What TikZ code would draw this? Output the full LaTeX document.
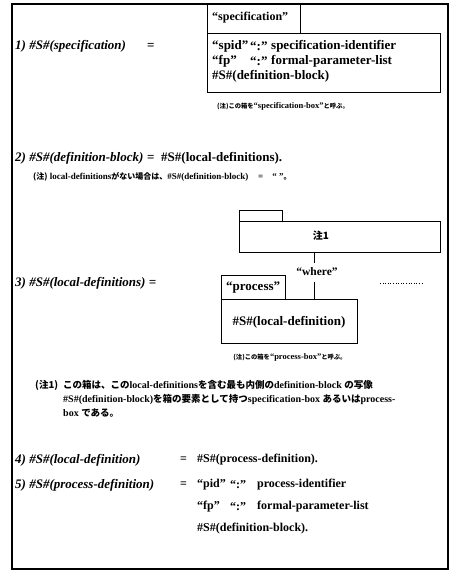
\documentclass[tikz,border=0pt]{standalone}
\usepackage{fontspec}
\setmainfont{Liberation Serif}
\newfontfamily\jp{Noto Sans CJK JP}
% Japanese sizes used inside the notes
\newcommand{\jpa}[1]{{\fontsize{6.3}{8}\selectfont\jp #1}}
\newcommand{\jpb}[1]{{\fontsize{8}{10}\selectfont\jp #1}}
\newcommand{\jpc}[1]{{\fontsize{9.5}{11}\selectfont\jp #1}}
\begin{document}
\begin{tikzpicture}[x=1pt,y=-1pt,
  frame/.style={line width=1.1pt},
  boxline/.style={line width=0.9pt},
  lbl/.style={anchor=west,inner sep=0pt,font=\fontsize{13}{15}\selectfont\bfseries\itshape},
  body/.style={anchor=west,inner sep=0pt,font=\fontsize{13}{15}\selectfont\bfseries},
  bodys/.style={anchor=west,inner sep=0pt,font=\fontsize{12}{14}\selectfont\bfseries},
  note/.style={inner sep=0pt,font=\fontsize{8.5}{9}\selectfont\bfseries},
  notel/.style={anchor=west,inner sep=0pt,font=\fontsize{9}{10}\selectfont\bfseries},
  para/.style={anchor=west,inner sep=0pt,font=\fontsize{10}{11}\selectfont\bfseries}]
\useasboundingbox (0,0) rectangle (452,574);

% outer frame
\draw[frame] (12,4) rectangle (448,569);

% 1) specification box
\draw[boxline] (207,4) rectangle (300,33);
\draw[boxline] (207,33) rectangle (440,92);
\node[bodys] (spechead) at (212,18) {“specification”};
\node[body] (spid) at (212,46) {“spid”};
\node[body] (spidc) at (250,46) {“:”};
\node[body] (spidid) at (271,46) {specification-identifier};
\node[body] (specfp) at (212,61) {“fp”};
\node[body] (specfpc) at (250,61) {“:”};
\node[body] (specfpl) at (271,61) {formal-parameter-list};
\node[body] (specdb) at (212,76) {\#S\#(definition-block)};
\node[note] (specnote) at (283,106) {\jpa{(注)この箱を}“specification-box”\jpa{と呼ぶ。}};
\node[lbl] (r1) at (15,46) {1) \#S\#(specification)};
\node[body] (r1eq) at (147,46) {=};

% 2) definition block
\node[lbl] (r2) at (15,158) {2) \#S\#(definition-block)};
\node[body] (r2eq) at (147,158) {=};
\node[body] (r2rhs) at (161,158) {\#S\#(local-definitions).};
\node[notel] (r2note) at (33,177)
  {\jpb{(注)} local-definitions\jpb{がない場合は、}\#S\#(definition-block)};
\node[notel] (r2noteq) at (258,177) {=\quad“~”\jpb{。}};

% 3) local definitions
\draw[boxline] (239,210) rectangle (282,221);
\draw[boxline] (239,221) rectangle (440,252);
\node[font=\fontsize{10}{11}\selectfont\jp\bfseries] (chu) at (321,236) {注1};
\coordinate (c1top) at (314,252);
\coordinate (c1bot) at (314,263);
\node[font=\fontsize{11.5}{13}\selectfont\bfseries,inner sep=0pt] (where) at (317,272) {“where”};
\coordinate (c2top) at (314,282);
\coordinate (c2bot) at (314,299);
\draw[boxline] (c1top) -- (c1bot);
\draw[boxline] (c2top) -- (c2bot);
\draw[boxline] (221,275) rectangle (285,299);
\node[body] (prochead) at (226,288) {“process”};
\draw[boxline] (221,299) rectangle (357,343);
\node[body,anchor=center] (localdef) at (289,322) {\#S\#(local-definition)};
\coordinate (dotsL) at (380,283);
\coordinate (dotsR) at (422,283);
\draw[line width=0.6pt,dotted] (dotsL) -- (dotsR);
\node[note] (procnote) at (290,357) {\jpa{(注)この箱を}“process-box”\jpa{と呼ぶ。}};
\node[lbl] (r3) at (15,283) {3) \#S\#(local-definitions) =};

% note 1
\node[para] (n1a) at (35,385) {\jpc{(注1)}};
\node[para] (n1b) at (63,385) {\jpc{この箱は、この}local-definitions\jpc{を含む最も内側の}definition-block \jpc{の写像}};
\node[para] (n1c) at (63,399) {\#S\#(definition-block)\jpc{を箱の要素として持つ}specification-box \jpc{あるいは}process-};
\node[para] (n1d) at (63,413) {box \jpc{である。}};

% 4) and 5)
\node[lbl] (r4) at (15,460) {4) \#S\#(local-definition)};
\node[bodys] (r4eq) at (180,460) {=};
\node[bodys] (r4rhs) at (197,460) {\#S\#(process-definition).};
\node[lbl] (r5) at (15,485) {5) \#S\#(process-definition)};
\node[bodys] (r5eq) at (180,485) {=};
\node[bodys] (pid) at (197,485) {“pid”};
\node[bodys] (pidc) at (230,485) {“:”};
\node[bodys] (pidid) at (257,485) {process-identifier};
\node[bodys] (fp) at (197,507) {“fp”};
\node[bodys] (fpc) at (230,507) {“:”};
\node[bodys] (fplist) at (257,507) {formal-parameter-list};
\node[bodys] (pdb) at (197,529) {\#S\#(definition-block).};
\end{tikzpicture}
\end{document}
